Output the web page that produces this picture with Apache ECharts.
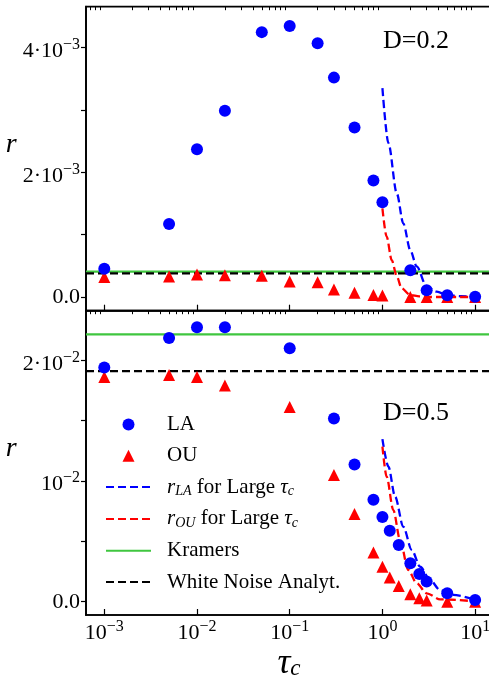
<!DOCTYPE html>
<html>
<head>
<meta charset="utf-8">
<script src="https://cdn.jsdelivr.net/npm/echarts@6/dist/echarts.min.js"></script>
<style>
html, body { margin: 0; padding: 0; overflow: hidden; background: #fff; }
#chart { width: 495px; height: 684px; }
</style>
</head>
<body>
<div id="chart"></div>
<script>
// tau_c values of the simulations
const tauTop = [0.001, 0.005, 0.01, 0.02, 0.05, 0.1, 0.2, 0.3, 0.5, 0.8, 1, 2, 3, 5, 10];
const laTop = [0.455e-3, 1.17e-3, 2.37e-3, 2.99e-3, 4.25e-3, 4.35e-3, 4.07e-3, 3.52e-3, 2.72e-3, 1.87e-3, 1.52e-3, 0.43e-3, 0.11e-3, 0.027e-3, 0.005e-3];
const ouTop = [0.32e-3, 0.33e-3, 0.36e-3, 0.35e-3, 0.34e-3, 0.25e-3, 0.235e-3, 0.12e-3, 0.07e-3, 0.03e-3, 0.025e-3, 0, 0, 0, 0];

const tauBot = [0.001, 0.005, 0.01, 0.02, 0.1, 0.3, 0.5, 0.8, 1, 1.2, 1.5, 2, 2.5, 3, 5, 10];
const laBot = [0.01942, 0.02185, 0.02274, 0.02274, 0.0210, 0.01519, 0.01137, 0.00846, 0.00703, 0.00589, 0.0047, 0.00318, 0.0023, 0.00168, 0.0007, 0.00014];
const ouBot = [0.01862, 0.0188, 0.01862, 0.01793, 0.01613, 0.01051, 0.00728, 0.00407, 0.0029, 0.002, 0.0013, 0.00061, 0.00028, 0.0001, 0, 0];

// large tau_c analytic curves
const rlaTopTau = [1.0, 1.16, 1.43, 1.68, 2.0, 2.34, 3.0, 3.86, 5, 7, 12];
const rlaTopVal = [3.35e-3, 2.47e-3, 1.66e-3, 1.18e-3, 0.75e-3, 0.49e-3, 0.165e-3, 0.085e-3, 0.03e-3, 0.012e-3, 0];
const rouTopTau = [1.0, 1.11, 1.26, 1.43, 1.61, 2.0, 2.5, 3.3, 11];
const rouTopVal = [1.42e-3, 0.97e-3, 0.59e-3, 0.33e-3, 0.14e-3, 0.03e-3, 0.01e-3, 0, 0];
const rlaBotTau = [1.0, 1.16, 1.37, 1.68, 2.07, 2.55, 3.27, 4.17, 5.8, 10.4];
const rlaBotVal = [0.01348, 0.0112, 0.00871, 0.00622, 0.00429, 0.0029, 0.0018, 0.00097, 0.00056, 0.00014];
const rouBotTau = [1.0, 1.11, 1.31, 1.55, 1.9, 2.34, 3.0, 4.2, 11.4];
const rouBotVal = [0.01286, 0.01037, 0.0076, 0.00512, 0.00263, 0.00153, 0.0007, 0.0002, 0];

// horizontal reference levels [top, bottom]
const kramers = [0.406e-3, 0.02216];
const whiteNoise = [0.38e-3, 0.01911];

// ticks
const xMin = 6.35e-4, xMax = 15.2;
const majorX = [1e-3, 1e-2, 1e-1, 1, 10];
const minorX = [];
[1e-4, 1e-3, 1e-2, 1e-1, 1, 10].forEach(d => {
  for (let k = 2; k <= 9; k++) minorX.push(+(k * d).toPrecision(3));
});
const topYTicks = [0, 1e-3, 2e-3, 3e-3, 4e-3];
const topYLabelVals = [0, 2e-3, 4e-3];
const topYLabels = ['0.0', '2·10^−3', '4·10^−3'];
const botYTicks = [0, 0.005, 0.01, 0.015, 0.02];
const botYLabelVals = [0, 0.01, 0.02];
const botYLabels = ['0.0', '10^−2', '2·10^−2'];

const FONT = 'Liberation Serif';
const pair = (xs, ys) => xs.map((x, i) => [x, ys[i]]);

function texLabel(s) {
  const p = s.split('^');
  if (p.length === 1) return '{p|' + s + '}';
  return '{m|' + p[0] + '}{s|' + p[1] + '}';
}
function pickLabel(vals, labels) {
  return v => {
    for (let i = 0; i < vals.length; i++) {
      if (Math.abs(v - vals[i]) < 1e-9) return texLabel(labels[i]);
    }
    return '';
  };
}
const labelRich = {
  p: { fontFamily: FONT, fontSize: 22, lineHeight: 22, color: '#000' },
  m: { fontFamily: FONT, fontSize: 22, lineHeight: 22, padding: [7, 0, 0, 0], color: '#000' },
  s: { fontFamily: FONT, fontSize: 16, lineHeight: 15, verticalAlign: 'top', color: '#000' }
};

const axisLine = { show: true, onZero: false, lineStyle: { color: '#000', width: 1.7 } };

function xAxes(grid, labels) {
  return [
    {
      gridIndex: grid, type: 'log', min: xMin, max: xMax,
      axisLine: axisLine,
      axisTick: { show: true, inside: true, length: 6, customValues: majorX, lineStyle: { color: '#000', width: 1.2 } },
      axisLabel: labels ? {
        show: true, customValues: majorX, margin: 4,
        formatter: v => { const e = Math.round(Math.log10(v)); return '{m|10}{s|' + (e < 0 ? '−' + (-e) : e) + '}'; },
        rich: labelRich
      } : { show: false },
      splitLine: { show: false },
      name: labels ? '{t|τ}{c|c}' : '',
      nameLocation: 'middle', nameGap: 30,
      nameTextStyle: {
        rich: {
          t: { fontFamily: FONT, fontStyle: 'italic', fontSize: 36, lineHeight: 34, color: '#000' },
          c: { fontFamily: FONT, fontStyle: 'italic', fontSize: 23, lineHeight: 20, verticalAlign: 'bottom', color: '#000' }
        }
      }
    },
    {
      gridIndex: grid, type: 'log', min: xMin, max: xMax,
      axisLine: { show: false, onZero: false },
      axisTick: { show: true, inside: true, length: 3.5, customValues: minorX, lineStyle: { color: '#000', width: 1 } },
      axisLabel: { show: false },
      splitLine: { show: false }
    }
  ];
}

function yAxis(grid, min, max, ticks, lv, lt) {
  return {
    gridIndex: grid, type: 'value', min: min, max: max,
    axisLine: axisLine,
    axisTick: { show: true, inside: false, length: 5, customValues: ticks, lineStyle: { color: '#000', width: 1.2 } },
    axisLabel: { show: true, customValues: lv, margin: 6, formatter: pickLabel(lv, lt), rich: labelRich },
    splitLine: { show: false },
    name: 'r', nameLocation: 'middle', nameRotate: 0, nameGap: 64,
    nameTextStyle: { fontFamily: FONT, fontStyle: 'italic', fontSize: 28, lineHeight: 28, verticalAlign: 'bottom', color: '#000' }
  };
}

function panelSeries(xi, yi, tau, la, ou, rlaT, rlaV, rouT, rouV, k) {
  const dash = { type: [8, 4], width: 2.3 };
  return [
    { name: 'Kramers', type: 'line', xAxisIndex: xi, yAxisIndex: yi, z: 2, symbol: 'none',
      data: [[xMin, kramers[k]], [xMax, kramers[k]]], lineStyle: { color: '#3fc63f', width: 2.2 }, itemStyle: { color: '#3fc63f' } },
    { name: 'White Noise Analyt.', type: 'line', xAxisIndex: xi, yAxisIndex: yi, z: 2, symbol: 'none',
      data: [[xMin, whiteNoise[k]], [xMax, whiteNoise[k]]], lineStyle: Object.assign({ color: '#000' }, dash), itemStyle: { color: '#000' } },
    { name: 'rLA', type: 'line', xAxisIndex: xi, yAxisIndex: yi, z: 2, symbol: 'none', smooth: 0.3, smoothMonotone: 'x',
      data: pair(rlaT, rlaV), lineStyle: Object.assign({ color: '#0000ff' }, dash), itemStyle: { color: '#0000ff' } },
    { name: 'rOU', type: 'line', xAxisIndex: xi, yAxisIndex: yi, z: 2, symbol: 'none', smooth: 0.3, smoothMonotone: 'x',
      data: pair(rouT, rouV), lineStyle: Object.assign({ color: '#ff0000' }, dash), itemStyle: { color: '#ff0000' } },
    { name: 'OU', type: 'scatter', xAxisIndex: xi, yAxisIndex: yi, z: 3, symbol: 'triangle', symbolSize: 12,
      data: pair(tau, ou), itemStyle: { color: '#ff0000', opacity: 1 } },
    { name: 'LA', type: 'scatter', xAxisIndex: xi, yAxisIndex: yi, z: 4, symbol: 'circle', symbolSize: 12,
      data: pair(tau, la), itemStyle: { color: '#0000ff', opacity: 1 } }
  ];
}

const legendText = {
  'LA': '{n|LA}',
  'OU': '{n|OU}',
  'rLA': '{i|r}{sub|LA}{n| for Large }{i|τ}{sub|c}',
  'rOU': '{i|r}{sub|OU}{n| for Large }{i|τ}{sub|c}',
  'Kramers': '{n|Kramers}',
  'White Noise Analyt.': '{n|White Noise Analyt.}'
};
const noSymbol = { opacity: 0 };
// triangle centred in the 45x12 legend box (corner points only widen the box)
const triIcon = 'path://M0,0M45,12M16.5,12L22.5,0L28.5,12Z';

const chart = echarts.init(document.getElementById('chart'));
chart.setOption({
  animation: false,
  backgroundColor: '#fff',
  grid: [
    { left: 86, top: 6.7, width: 406, height: 304, show: true, borderColor: '#000', borderWidth: 1.7 },
    { left: 86, top: 310.7, width: 406, height: 304.3, show: true, borderColor: '#000', borderWidth: 1.7 }
  ],
  title: [
    { text: 'D=0.2', left: 383, top: 27, padding: 0, textStyle: { fontFamily: FONT, fontWeight: 'normal', fontSize: 26, lineHeight: 28, color: '#000' } },
    { text: 'D=0.5', left: 383, top: 399, padding: 0, textStyle: { fontFamily: FONT, fontWeight: 'normal', fontSize: 26, lineHeight: 28, color: '#000' } }
  ],
  xAxis: xAxes(0, false).concat(xAxes(1, true)),
  yAxis: [
    yAxis(0, -2.2e-4, 4.658e-3, topYTicks, topYLabelVals, topYLabels),
    yAxis(1, -0.0011, 0.02412, botYTicks, botYLabelVals, botYLabels)
  ],
  legend: {
    orient: 'vertical', left: 105, top: 414, padding: 0,
    itemWidth: 45, itemHeight: 12, itemGap: 10.3,
    selectedMode: false,
    data: [
      { name: 'LA' },
      { name: 'OU', icon: triIcon },
      { name: 'rLA', itemStyle: noSymbol },
      { name: 'rOU', itemStyle: noSymbol },
      { name: 'Kramers', itemStyle: noSymbol },
      { name: 'White Noise Analyt.', itemStyle: noSymbol }
    ],
    formatter: name => legendText[name],
    textStyle: {
      padding: [0, 0, 0, 11],
      rich: {
        n: { fontFamily: FONT, fontSize: 21, lineHeight: 22, color: '#000' },
        i: { fontFamily: FONT, fontStyle: 'italic', fontSize: 21, lineHeight: 22, color: '#000' },
        sub: { fontFamily: FONT, fontStyle: 'italic', fontSize: 14, lineHeight: 12, verticalAlign: 'bottom', color: '#000' }
      }
    }
  },
  series: panelSeries(0, 0, tauTop, laTop, ouTop, rlaTopTau, rlaTopVal, rouTopTau, rouTopVal, 0)
    .concat(panelSeries(2, 1, tauBot, laBot, ouBot, rlaBotTau, rlaBotVal, rouBotTau, rouBotVal, 1))
});
</script>
</body>
</html>
